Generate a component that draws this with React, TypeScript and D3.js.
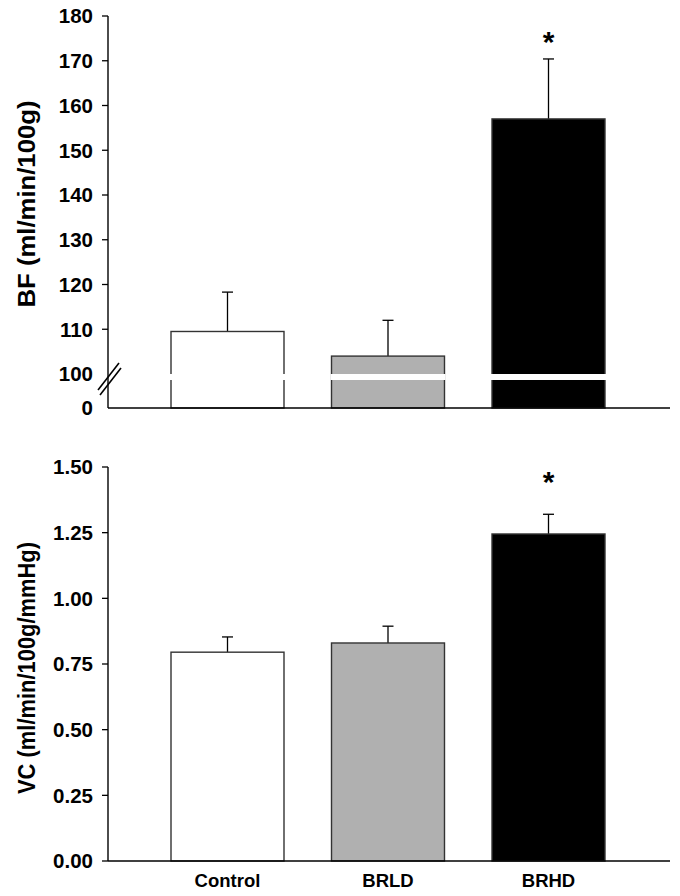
import React from "react";
import * as d3 from "d3";

const categories = ["Control", "BRLD", "BRHD"];
const bfValues = [109.5, 104, 157];
const bfErrors = [8.8, 8, 13.4];
const vcValues = [0.795, 0.83, 1.245];
const vcErrors = [0.058, 0.064, 0.075];
const bfTicks = [0, 100, 110, 120, 130, 140, 150, 160, 170, 180];
const vcTicks = [0, 0.25, 0.5, 0.75, 1.0, 1.25, 1.5];
const vcTickLabels = ["0.00", "0.25", "0.50", "0.75", "1.00", "1.25", "1.50"];
const fills = ["#ffffff", "#b0b0b0", "#000000"];
const sigFlags = [false, false, true];
const bfStarLevel = 175.7;
const vcStarLevel = 1.47;

const FONT = "'Liberation Sans', Arial, Helvetica, sans-serif";

export default function App() {
  const W = 680, H = 896;
  const axisX = 108;
  const xEnd = 670;
  const x = d3
    .scaleBand()
    .domain(categories)
    .range([147.25, 628.75])
    .paddingInner(0.296)
    .paddingOuter(0.148);
  // top panel piecewise scale with break
  const yTop = d3.scaleLinear().domain([0, 100, 180]).range([408, 374, 16]);
  const yBot = d3.scaleLinear().domain([0, 1.5]).range([861, 467]);
  const bw = x.bandwidth();
  const capHalf = 5.5;

  const bandY0 = 374;
  const bandY1 = 380;
  const tickFont = 20.5;
  const starFont = 30;

  return (
    <svg width={W} height={H} style={{ position: "absolute", left: 0, top: 0, background: "#fff" }} fontFamily={FONT}>
      {/* ---------- TOP PANEL ---------- */}
      <g>
        {categories.map((c, i) => {
          const x0 = x(c)!;
          const top = yTop(bfValues[i]);
          const eTop = yTop(bfValues[i] + bfErrors[i]);
          const cx = x0 + bw / 2;
          return (
            <g key={c}>
              <line x1={cx} x2={cx} y1={top} y2={eTop} stroke="#000" strokeWidth={1.3} />
              <line x1={cx - capHalf} x2={cx + capHalf} y1={eTop} y2={eTop} stroke="#000" strokeWidth={1.3} />
              <rect x={x0} y={top} width={bw} height={yTop(0) - top} fill={fills[i]} stroke="#333" strokeWidth={1.4} />
              <rect x={x0 - 1} y={bandY0} width={bw + 2} height={bandY1 - bandY0} fill="#fff" />
              {sigFlags[i] && (
                <text x={cx} y={yTop(bfStarLevel) + 17} textAnchor="middle" fontSize={starFont} fontWeight="bold">*</text>
              )}
            </g>
          );
        })}
        {/* axes */}
        <line x1={axisX} x2={axisX} y1={yTop(180)} y2={yTop(0)} stroke="#000" strokeWidth={1.4} />
        <line x1={axisX} x2={xEnd} y1={yTop(0)} y2={yTop(0)} stroke="#000" strokeWidth={1.4} />
        {bfTicks.filter((t) => t !== 0 && t !== 100).map((t) => (
          <line key={t} x1={axisX - 6} x2={axisX} y1={yTop(t)} y2={yTop(t)} stroke="#000" strokeWidth={1.3} />
        ))}
        {bfTicks.map((t) => (
          <text key={t} x={93} y={yTop(t)} dy="0.36em" textAnchor="end" fontSize={tickFont} fontWeight="bold">{t}</text>
        ))}
        {/* break marks */}
        <line x1={98} y1={yTop(100) + 16} x2={119} y2={yTop(100) - 11} stroke="#000" strokeWidth={1.6} />
        <line x1={100} y1={yTop(100) + 21} x2={121} y2={yTop(100) - 6} stroke="#000" strokeWidth={1.6} />
        <text transform={`translate(35,204) rotate(-90)`} textAnchor="middle" fontSize={23} fontWeight="bold" textLength={207} lengthAdjust="spacingAndGlyphs">BF (ml/min/100g)</text>
      </g>

      {/* ---------- BOTTOM PANEL ---------- */}
      <g>
        {categories.map((c, i) => {
          const x0 = x(c)!;
          const top = yBot(vcValues[i]);
          const eTop = yBot(vcValues[i] + vcErrors[i]);
          const cx = x0 + bw / 2;
          return (
            <g key={c}>
              <line x1={cx} x2={cx} y1={top} y2={eTop} stroke="#000" strokeWidth={1.3} />
              <line x1={cx - capHalf} x2={cx + capHalf} y1={eTop} y2={eTop} stroke="#000" strokeWidth={1.3} />
              <rect x={x0} y={top} width={bw} height={yBot(0) - top} fill={fills[i]} stroke="#333" strokeWidth={1.4} />
              {sigFlags[i] && (
                <text x={cx} y={yBot(vcStarLevel) + 17} textAnchor="middle" fontSize={starFont} fontWeight="bold">*</text>
              )}
            </g>
          );
        })}
        <line x1={axisX} x2={axisX} y1={yBot(1.5)} y2={yBot(0)} stroke="#000" strokeWidth={1.4} />
        <line x1={axisX} x2={xEnd} y1={yBot(0)} y2={yBot(0)} stroke="#000" strokeWidth={1.4} />
        {vcTicks.map((t, i) => (
          <g key={t}>
            <line x1={axisX - 6} x2={axisX} y1={yBot(t)} y2={yBot(t)} stroke="#000" strokeWidth={1.3} />
            <text x={93} y={yBot(t)} dy="0.36em" textAnchor="end" fontSize={tickFont} fontWeight="bold">{vcTickLabels[i]}</text>
          </g>
        ))}
        {categories.map((c) => (
          <text key={c} x={x(c)! + bw / 2} y={887} textAnchor="middle" fontSize={18.5} fontWeight="bold">{c}</text>
        ))}
        <text transform={`translate(35,668) rotate(-90)`} textAnchor="middle" fontSize={23} fontWeight="bold" textLength={252} lengthAdjust="spacingAndGlyphs">VC (ml/min/100g/mmHg)</text>
      </g>
    </svg>
  );
}
